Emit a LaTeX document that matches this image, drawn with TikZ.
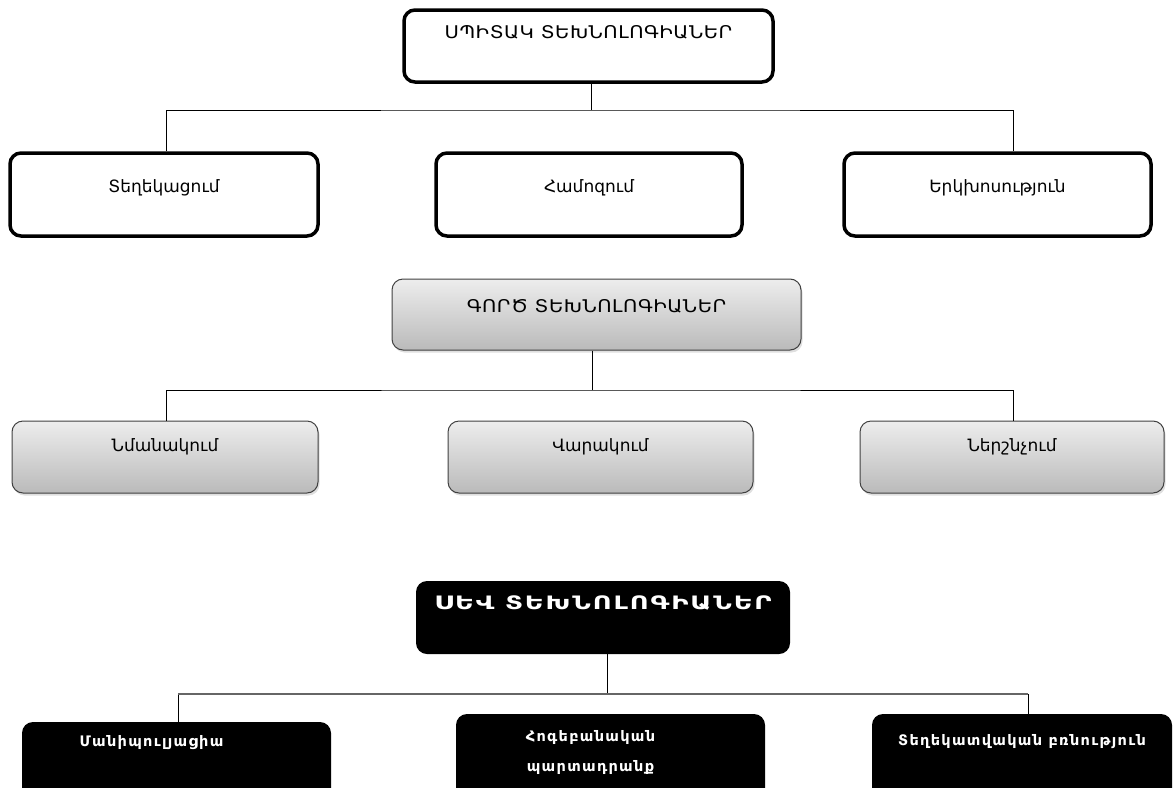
\documentclass[tikz,border=0pt]{standalone}
\usepackage{fontspec}
\setmainfont{DejaVu Sans}
\newfontfamily\capsfont[FakeStretch=1.12, LetterSpace=3.0]{DejaVu Sans}
\newfontfamily\widefont[LetterSpace=9.0]{DejaVu Sans}
\newfontfamily\blackcaps[FakeStretch=1.4, LetterSpace=10.0]{DejaVu Sans}
\usetikzlibrary{shadows}

\tikzset{
  whitebox/.style={draw=black, line width=3.5pt, rounded corners=11pt, fill=white, inner sep=0pt},
  graybox/.style={draw=black!75, line width=1pt, rounded corners=11pt,
    top color=black!7, bottom color=black!27,
    drop shadow={shadow xshift=1.5pt, shadow yshift=-2.5pt, opacity=0.25}, inner sep=0pt},
  blackbox/.style={fill=black, rounded corners=11pt, inner sep=0pt},
  boxtext/.style={anchor=center, inner sep=0pt, font=\fontsize{17}{20}\selectfont},
  headtext/.style={boxtext, font=\capsfont\fontsize{17.5}{20}\selectfont},
  darktext/.style={boxtext, text=white, align=center, font=\widefont\bfseries\fontsize{14.5}{30}\selectfont},
  link/.style={draw=black, line width=1pt},
}

\begin{document}
\begin{tikzpicture}[x=1pt, y=-1pt]

\useasboundingbox (0,0) rectangle (1174,787);
\clip (0,0) rectangle (1174,787);

%% white technologies
\node[whitebox, minimum width=369pt, minimum height=72pt,
  label={[headtext, yshift=-24pt]north:ՍՊԻՏԱԿ ՏԵԽՆՈԼՈԳԻԱՆԵՐ}] (spitak) at (588.5,46) {};

\foreach \nm/\x/\w/\txt in {w1/164/308/Տեղեկացում, w2/589/306/Համոզում, w3/997.5/307/Երկխոսություն}
  {
    \node[whitebox, minimum width=\w pt, minimum height=83pt,
      label={[boxtext, yshift=-37pt]north:\txt}] (\nm) at (\x,194.5) {};
  }

\coordinate (jw) at (591,110);
\draw[link] (jw |- spitak.south) -- (jw);
\draw[link] ([xshift=2pt]w1.north) |- (jw) -| ([xshift=15.5pt]w3.north);

%% gray technologies
\node[graybox, minimum width=409pt, minimum height=71pt,
  label={[headtext, yshift=-28pt]north:ԳՈՐԾ ՏԵԽՆՈԼՈԳԻԱՆԵՐ}] (gorc) at (596.5,314.5) {};

\foreach \nm/\x/\w/\txt in {g1/165/306/Նմանակում, g2/600.5/305/Վարակում, g3/1012/304/Ներշնչում}
  {
    \node[graybox, minimum width=\w pt, minimum height=72pt,
      label={[boxtext, yshift=-26pt]north:\txt}] (\nm) at (\x,457) {};
  }

\coordinate (jg) at (592,390);
\draw[link] (jg |- gorc.south) -- (jg);
\draw[link] ([xshift=1pt]g1.north) |- (jg) -| ([xshift=1pt]g3.north);

%% black technologies
\node[blackbox, minimum width=374pt, minimum height=73pt,
  label={[darktext, font=\blackcaps\bfseries\fontsize{18.5}{20}\selectfont, yshift=-22pt]north:ՍԵՎ ՏԵԽՆՈԼՈԳԻԱՆԵՐ}] (sev) at (603,617.5) {};

\node[blackbox, minimum width=309pt, minimum height=88pt,
  label={[darktext, xshift=-25pt, yshift=-21pt]north:Մանիպուլյացիա}] (b1) at (176.5,766) {};
\node[blackbox, minimum width=309pt, minimum height=96pt,
  label={[darktext, xshift=-20pt, yshift=-39pt]north:Հոգեբանական\\պարտադրանք}] (b2) at (610.5,762) {};
\node[blackbox, minimum width=300pt, minimum height=96pt,
  label={[darktext, yshift=-28pt]north:Տեղեկատվական բռնություն}] (b3) at (1022,762) {};

\coordinate (jb) at (607,694);
\draw[link] (jb |- sev.south) -- (jb);
\draw[link] ([xshift=1.5pt]b1.north) -- ([xshift=1.5pt]b1.north |- jb);
\draw[link] ([xshift=6pt]b3.north) -- ([xshift=6pt]b3.north |- jb);
\draw[draw=black!60, line width=1.4pt] ([xshift=1.5pt]b1.north |- jb) -- ([xshift=6pt]b3.north |- jb);

\end{tikzpicture}
\end{document}
